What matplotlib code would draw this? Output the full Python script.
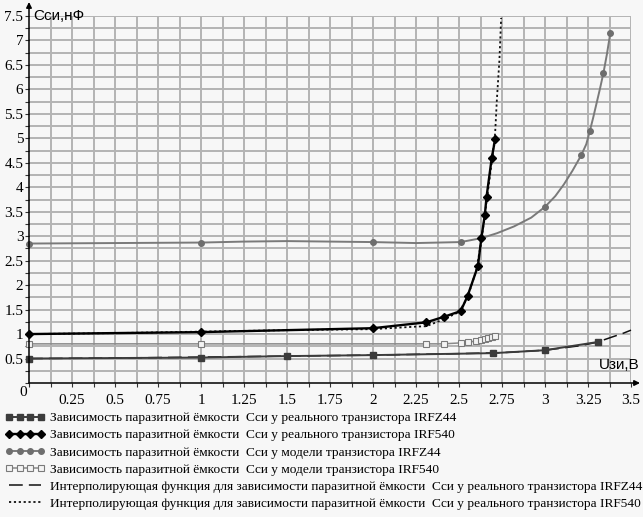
import matplotlib
matplotlib.use("Agg")
import matplotlib.pyplot as plt
from matplotlib.lines import Line2D
import numpy as np

# measured points (U_gs, V ; C_ds, nF)
irfz44_real_x = [0, 1, 1.5, 2, 2.7, 3.0, 3.31]
irfz44_real_y = [0.50, 0.52, 0.55, 0.57, 0.61, 0.67, 0.84]

irf540_real_x = [0, 1, 2, 2.31, 2.41, 2.51, 2.55, 2.61, 2.63, 2.65, 2.66, 2.69, 2.71]
irf540_real_y = [1.0, 1.04, 1.12, 1.24, 1.35, 1.47, 1.78, 2.39, 2.96, 3.43, 3.80, 4.59, 4.98]

irfz44_mod_x = [0, 1, 2, 2.51, 2.63, 3.0, 3.21, 3.26, 3.34, 3.38]
irfz44_mod_y = [2.85, 2.87, 2.88, 2.88, 2.96, 3.60, 4.65, 5.14, 6.34, 7.16]
# read along the drawn curve of the model
irfz44_mod_cx = [0, 0.5, 1, 1.25, 1.5, 1.75, 2, 2.25, 2.51, 2.63, 2.72, 2.82, 2.92, 3.0,
                 3.06, 3.11, 3.16, 3.21, 3.24, 3.26, 3.28, 3.30, 3.32, 3.34, 3.36, 3.38]
irfz44_mod_cy = [2.85, 2.86, 2.87, 2.89, 2.90, 2.89, 2.88, 2.86, 2.88, 2.96, 3.06, 3.20, 3.38, 3.60,
                 3.82, 4.06, 4.34, 4.65, 4.88, 5.14, 5.42, 5.72, 6.02, 6.34, 6.72, 7.16]

irf540_mod_x = [0, 1, 2.31, 2.41, 2.51, 2.55, 2.60, 2.63, 2.65, 2.67, 2.69, 2.71]
irf540_mod_y = [0.80, 0.80, 0.80, 0.80, 0.82, 0.83, 0.86, 0.87, 0.89, 0.91, 0.93, 0.96]

# interpolating functions
fit_z44_x = [0, 0.5, 1, 1.5, 2, 2.5, 2.75, 3.0, 3.2, 3.3, 3.39, 3.45, 3.5]
fit_z44_y = [0.50, 0.51, 0.53, 0.55, 0.57, 0.60, 0.62, 0.67, 0.76, 0.83, 0.94, 1.01, 1.08]

fit_540_x = [0, 0.5, 1, 1.5, 2, 2.24, 2.31, 2.41, 2.5, 2.55, 2.60, 2.63, 2.66, 2.69, 2.71, 2.72, 2.735, 2.745]
fit_540_y = [1.0, 1.02, 1.05, 1.08, 1.10, 1.15, 1.16, 1.30, 1.45, 1.75, 2.30, 2.90, 3.70, 4.50, 5.10, 5.78, 6.60, 7.46]

labels = [
    "Зависимость паразитной ёмкости  Сси у реального транзистора IRFZ44",
    "Зависимость паразитной ёмкости  Сси у реального транзистора IRF540",
    "Зависимость паразитной ёмкости  Сси у модели транзистора IRFZ44",
    "Зависимость паразитной ёмкости  Сси у модели транзистора IRF540",
    "Интерполирующая функция для зависимости паразитной ёмкости  Сси у реального транзистора IRFZ44",
    "Интерполирующая функция для зависимости паразитной ёмкости  Сси у реального транзистора IRF540",
]

serif = "Liberation Serif"
sans = "Liberation Sans"
bg = "#f7f7f7"

fig = plt.figure(figsize=(6.43, 5.17), dpi=100, facecolor=bg)
ax = fig.add_axes([29 / 643, 1 - 383 / 517, 602 / 643, 367 / 517], facecolor=bg)
ax.set_xlim(0, 3.5)
ax.set_ylim(0, 7.5)

xminor = np.arange(0, 3.51, 0.125)
yminor = np.arange(0, 7.51, 0.25)
ax.set_xticks(np.arange(0, 3.51, 0.25))
ax.set_xticklabels([""] + ["%g" % v for v in np.arange(0.25, 3.51, 0.25)])
ax.set_xticks(xminor, minor=True)
ax.set_yticks(np.arange(0, 7.51, 0.5))
ax.set_yticklabels([""] + ["%g" % v for v in np.arange(0.5, 7.51, 0.5)])
ax.set_yticks(yminor, minor=True)

# grid drawn as plain lines
ax.vlines(xminor[1:], 0, 7.5, colors="#b4b4b4", lw=1.4, zorder=1)
ax.hlines(yminor[1:], 0, 3.5, colors="#b4b4b4", lw=1.4, zorder=1)

ax.tick_params(which="both", direction="out", length=3, width=0.8, color="#333333")
ax.tick_params(axis="x", pad=5, labelsize=11)
ax.tick_params(axis="y", pad=1, labelsize=11)
for t in ax.get_xticklabels() + ax.get_yticklabels():
    t.set_fontfamily(serif)
for s in ax.spines.values():
    s.set_visible(False)

# axes with arrows
ax.annotate("", xy=(0, 1 + 14 / 367), xytext=(0, 0), xycoords="axes fraction",
            arrowprops=dict(arrowstyle="-|>", color="black", lw=1.1,
                            mutation_scale=8, shrinkA=0, shrinkB=0), annotation_clip=False)
ax.annotate("", xy=(1 + 9 / 602, 0), xytext=(0, 0), xycoords="axes fraction",
            arrowprops=dict(arrowstyle="-|>", color="black", lw=1.1,
                            mutation_scale=8, shrinkA=0, shrinkB=0), annotation_clip=False)
ax.text(4 / 602, 1.0, "Cси,нФ", transform=ax.transAxes, fontsize=11, family=sans,
        ha="left", va="center")
ax.text(1 + 8 / 602, 11 / 367, "Uзи,В", transform=ax.transAxes, fontsize=11, family=sans,
        ha="right", va="bottom")
ax.text(-6 / 602, -10 / 367, "0", transform=ax.transAxes, fontsize=11, family=serif,
        ha="center", va="center")

# interpolations first
l5, = ax.plot(fit_z44_x, fit_z44_y, color="#111111", lw=1.1, ls=(0, (9, 4)), clip_on=False, zorder=2)
l6, = ax.plot(fit_540_x, fit_540_y, color="#111111", lw=1.3, ls=(0, (1.2, 1.5)), clip_on=False, zorder=2)

ax.plot(irfz44_mod_cx, irfz44_mod_cy, color="#7a7a7a", lw=1.4, clip_on=False, zorder=2)
ax.plot(irfz44_mod_x, irfz44_mod_y, ls="none", marker="o", ms=4, color="#6e6e6e", clip_on=False, zorder=2)
l3 = Line2D([], [], color="#7a7a7a", lw=1.4, marker="o", ms=4, mfc="#6e6e6e", mec="#6e6e6e")

l4, = ax.plot(irf540_mod_x, irf540_mod_y, color="#8a8a8a", lw=1.1, marker="s", ms=4,
              mfc="#f4f4f4", mec="#7a7a7a", mew=0.8, clip_on=False, zorder=2)
l1, = ax.plot(irfz44_real_x, irfz44_real_y, color="#3c3c3c", lw=1.4, marker="s", ms=4,
              clip_on=False, zorder=2)
l2, = ax.plot(irf540_real_x, irf540_real_y, color="black", lw=1.7, marker="D", ms=3.6,
              clip_on=False, zorder=2)

fig.legend([l1, l2, l3, l4, l5, l6], labels, loc="upper left",
           bbox_to_anchor=(5 / 643, 1 - 412 / 517), frameon=False,
           prop={"family": serif, "size": 9.6}, numpoints=4, handlelength=3.0,
           handletextpad=0.38, labelspacing=0.36, borderpad=0, borderaxespad=0)

fig.savefig("out.png", dpi=100, facecolor=bg)
